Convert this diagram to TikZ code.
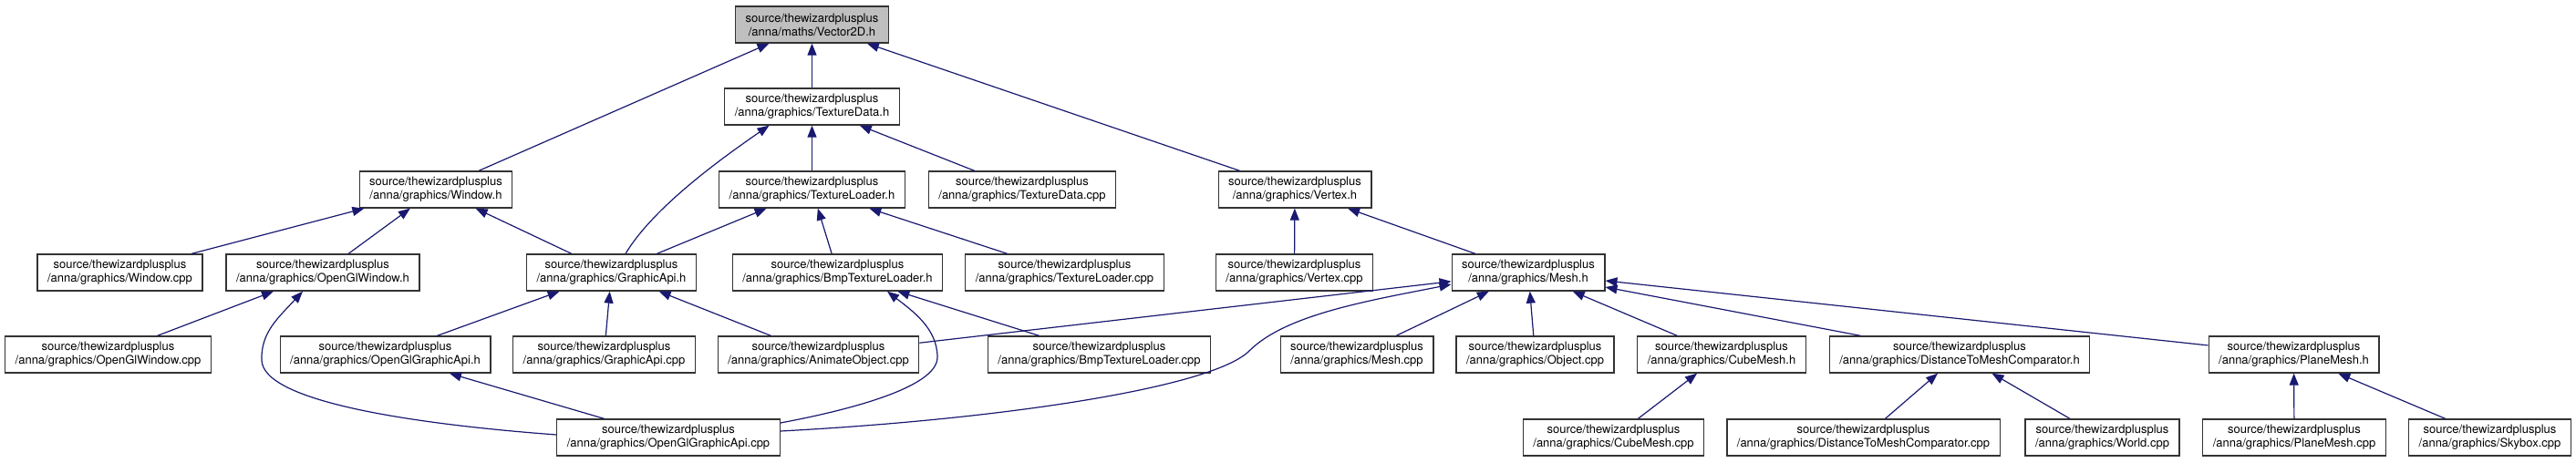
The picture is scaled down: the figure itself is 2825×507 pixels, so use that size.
\documentclass[tikz,border=0pt]{standalone}
\usepackage{fontspec}
\setmainfont{TeX Gyre Heros}
\usetikzlibrary{arrows.meta}
\definecolor{edgeblue}{RGB}{25,25,112}
\definecolor{rootgray}{RGB}{191,191,191}

\begin{document}
\begin{tikzpicture}[x=1pt,y=1pt,
  file/.style={draw=black!80,line width=1.3pt,fill=white,align=center,
    minimum height=40pt,inner xsep=11pt,inner ysep=0pt,
    font=\fontsize{13pt}{15pt}\selectfont},
  dep/.style={arrows={Triangle[length=13pt,width=10pt]-},draw=edgeblue,line width=1.2pt}]

\useasboundingbox (0,0) rectangle (2825,-507);

% headers and sources
\node[file,fill=rootgray] (vec) at (890.5,-27) {source/thewizardplusplus\\/anna/maths/Vector2D.h};

\node[file] (tdh) at (890.5,-117) {source/thewizardplusplus\\/anna/graphics/TextureData.h};

\node[file] (winh) at (478,-208) {source/thewizardplusplus\\/anna/graphics/Window.h};
\node[file] (tlh) at (890.5,-208) {source/thewizardplusplus\\/anna/graphics/TextureLoader.h};
\node[file] (tdcpp) at (1121,-208) {source/thewizardplusplus\\/anna/graphics/TextureData.cpp};
\node[file] (verh) at (1420,-208) {source/thewizardplusplus\\/anna/graphics/Vertex.h};

\node[file] (wincpp) at (131.5,-299) {source/thewizardplusplus\\/anna/graphics/Window.cpp};
\node[file] (glwinh) at (354,-299) {source/thewizardplusplus\\/anna/graphics/OpenGlWindow.h};
\node[file] (gapih) at (670.5,-299) {source/thewizardplusplus\\/anna/graphics/GraphicApi.h};
\node[file] (bmph) at (918.5,-299) {source/thewizardplusplus\\/anna/graphics/BmpTextureLoader.h};
\node[file] (tlcpp) at (1167.5,-299) {source/thewizardplusplus\\/anna/graphics/TextureLoader.cpp};
\node[file] (vercpp) at (1419.5,-299) {source/thewizardplusplus\\/anna/graphics/Vertex.cpp};
\node[file] (meshh) at (1676,-299) {source/thewizardplusplus\\/anna/graphics/Mesh.h};

\node[file] (glwincpp) at (118.5,-389) {source/thewizardplusplus\\/anna/graphics/OpenGlWindow.cpp};
\node[file] (glgapih) at (422.5,-389) {source/thewizardplusplus\\/anna/graphics/OpenGlGraphicApi.h};
\node[file] (gapicpp) at (662.5,-389) {source/thewizardplusplus\\/anna/graphics/GraphicApi.cpp};
\node[file] (animcpp) at (897.5,-389) {source/thewizardplusplus\\/anna/graphics/AnimateObject.cpp};
\node[file] (bmpcpp) at (1205.5,-389) {source/thewizardplusplus\\/anna/graphics/BmpTextureLoader.cpp};
\node[file] (meshcpp) at (1488,-389) {source/thewizardplusplus\\/anna/graphics/Mesh.cpp};
\node[file] (objcpp) at (1683.5,-389) {source/thewizardplusplus\\/anna/graphics/Object.cpp};
\node[file] (cubeh) at (1888,-389) {source/thewizardplusplus\\/anna/graphics/CubeMesh.h};
\node[file] (dtmh) at (2149,-389) {source/thewizardplusplus\\/anna/graphics/DistanceToMeshComparator.h};
\node[file] (planeh) at (2515.5,-389) {source/thewizardplusplus\\/anna/graphics/PlaneMesh.h};

\node[file] (glgapicpp) at (733,-480) {source/thewizardplusplus\\/anna/graphics/OpenGlGraphicApi.cpp};
\node[file] (cubecpp) at (1769.5,-480) {source/thewizardplusplus\\/anna/graphics/CubeMesh.cpp};
\node[file] (dtmcpp) at (2043.5,-480) {source/thewizardplusplus\\/anna/graphics/DistanceToMeshComparator.cpp};
\node[file] (worldcpp) at (2305.5,-480) {source/thewizardplusplus\\/anna/graphics/World.cpp};
\node[file] (planecpp) at (2516,-480) {source/thewizardplusplus\\/anna/graphics/PlaneMesh.cpp};
\node[file] (skycpp) at (2730.5,-480) {source/thewizardplusplus\\/anna/graphics/Skybox.cpp};


% straight dependencies
\draw[dep] (vec) -- (winh);
\draw[dep] (vec) -- (tdh);
\draw[dep] (vec) -- (verh);
\draw[dep] (tdh) -- (tlh);
\draw[dep] (tdh) -- (tdcpp);
\draw[dep] (winh) -- (wincpp);
\draw[dep] (winh) -- (glwinh);
\draw[dep] (winh) -- (gapih);
\draw[dep] (tlh) -- (gapih);
\draw[dep] (tlh) -- (bmph);
\draw[dep] (tlh) -- (tlcpp);
\draw[dep] (verh) -- (vercpp);
\draw[dep] (verh) -- (meshh);
\draw[dep] (glwinh) -- (glwincpp);
\draw[dep] (gapih) -- (glgapih);
\draw[dep] (gapih) -- (gapicpp);
\draw[dep] (gapih) -- (animcpp);
\draw[dep] (glgapih) -- (glgapicpp);
\draw[dep] (bmph) -- (bmpcpp);
\draw[dep] (meshh) -- (animcpp);
\draw[dep] (meshh) -- (meshcpp);
\draw[dep] (meshh) -- (objcpp);
\draw[dep] (meshh) -- (cubeh);
\draw[dep] (meshh) -- (dtmh);
\draw[dep] (meshh) -- (planeh);
\draw[dep] (cubeh) -- (cubecpp);
\draw[dep] (dtmh) -- (dtmcpp);
\draw[dep] (dtmh) -- (worldcpp);
\draw[dep] (planeh) -- (planecpp);
\draw[dep] (planeh) -- (skycpp);

% curved dependencies
\draw[dep] ([xshift=-47pt]tdh.south) .. controls +(-55,-38) and +(30,50) .. ([xshift=15.5pt]gapih.north);
\draw[dep] ([xshift=-22pt]glwinh.south) .. controls +(-27,-29) and +(-1,30) .. (287,-395)
  .. controls +(1,-45) and +(-161,12) .. ([yshift=3pt]glgapicpp.west);
\draw[dep] ([xshift=54.5pt]bmph.south) .. controls +(27,-21) and +(0,32) .. (1028,-392)
  .. controls +(0,-33) and +(75,14) .. ([yshift=16pt]glgapicpp.east);
\draw[dep] ([yshift=-13pt]meshh.west) .. controls +(-91,-18) and +(40,40) .. (1370,-385)
  .. controls +(-40,-40) and +(245,13) .. ([yshift=7pt]glgapicpp.east);

\end{tikzpicture}
\end{document}
